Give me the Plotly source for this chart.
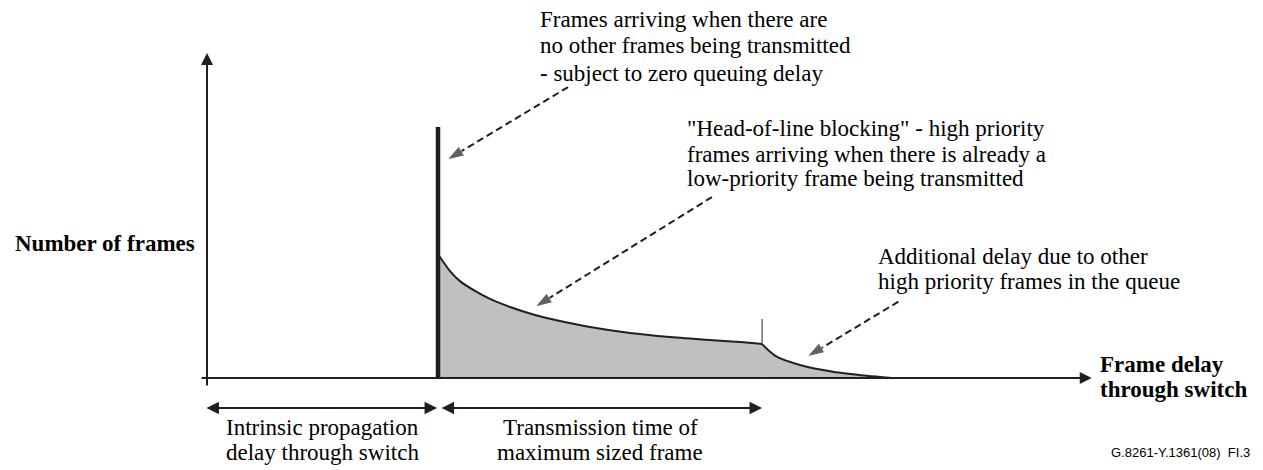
import plotly.graph_objects as go

# the page puts the plot 8px in from the top-left corner, so the figure is that much smaller
page_offset = 8
fig_w, fig_h = 1263 - page_offset, 470 - page_offset

# diagram origin (page pixels) and scale (pixels per data unit)
origin_px = (207, 378)
px_per_delay = 231
px_per_frames = 25.1

ink = '#231f20'
fill_grey = '#c0c0c0'
serif = 'Liberation Serif, Times New Roman, serif'
text_size = 23

# frame delay distribution: the zero-queuing spike, head-of-line part, queue tail
spike_delay = 1.0
spike_frames = 10.0
hol_delay = [1.006, 1.052, 1.095, 1.160, 1.225, 1.312, 1.420, 1.528, 1.658, 1.831, 2.004, 2.177, 2.307, 2.403]
hol_frames = [4.85, 4.26, 3.86, 3.47, 3.15, 2.83, 2.51, 2.27, 2.03, 1.79, 1.63, 1.51, 1.43, 1.35]
tail_delay = [2.403, 2.466, 2.567, 2.71, 2.856, 2.957]
tail_frames = [1.35, 0.85, 0.52, 0.25, 0.09, 0.01]
max_frame_tick = [1.35, 2.35]

# axis extents (delay, frames)
x_axis_span = [-0.03, 3.83]
y_axis_span = [-0.36, 12.95]

# dimension arrows under the axis
dim_level = -1.195
dim_spans = [[-0.009, 0.996], [1.009, 2.403]]

# dashed pointer arrows: (start delay, start frames) -> (tip delay, tip frames)
pointers = [
    [(1.563, 11.59), (1.039, 8.69)],
    [(2.186, 7.21), (1.420, 2.83)],
    [(2.993, 3.04), (2.598, 0.85)],
]

# text blocks: lines, anchor x, line centre y (page pixels), x anchor, bold
text_blocks = [
    (['Frames arriving when there are', 'no other frames being transmitted',
      '- subject to zero queuing delay'], 538, [19, 46, 73], 'left', False),
    (['"Head-of-line blocking" - high priority', 'frames arriving when there is already a',
      'low-priority frame being transmitted'], 685, [129, 154, 179], 'left', False),
    (['Additional delay due to other', 'high priority frames in the queue'], 876, [256, 281], 'left', False),
    (['Intrinsic propagation', 'delay through switch'], 322, [427, 452], 'center', False),
    (['Transmission time of', 'maximum sized frame'], 600, [427, 452], 'center', False),
    (['Number of frames'], 197, [243], 'right', True),
    (['Frame delay', 'through switch'], 1098, [364, 389], 'left', True),
]
figure_ref = 'G.8261-Y.1361(08)\u00a0 FI.3'


def to_paper(px, py):
    return (px - page_offset) / fig_w, 1 - (py - page_offset) / fig_h


ox, oy = origin_px[0] - page_offset, origin_px[1] - page_offset
x_range = [-ox / px_per_delay, (fig_w - ox) / px_per_delay]
y_range = [(oy - fig_h) / px_per_frames, oy / px_per_frames]

fig = go.Figure()

fig.add_trace(go.Scatter(x=hol_delay, y=hol_frames, mode='lines', fill='tozeroy', fillcolor=fill_grey,
                         line=dict(color=ink, width=2, shape='spline', smoothing=0.8), hoverinfo='skip'))
fig.add_trace(go.Scatter(x=tail_delay, y=tail_frames, mode='lines', fill='tozeroy', fillcolor=fill_grey,
                         line=dict(color=ink, width=2, shape='spline', smoothing=0.8), hoverinfo='skip'))
fig.add_trace(go.Scatter(x=[hol_delay[-1], hol_delay[-1]], y=max_frame_tick, mode='lines',
                         line=dict(color='#444444', width=1.2), hoverinfo='skip'))
fig.add_trace(go.Scatter(x=[spike_delay, spike_delay], y=[0, spike_frames], mode='lines',
                         line=dict(color=ink, width=4.5), hoverinfo='skip'))

for start, tip in pointers:
    fig.add_trace(go.Scatter(x=[start[0], tip[0]], y=[start[1], tip[1]], mode='lines+markers',
                             line=dict(color=ink, width=2, dash='7px,4px'),
                             marker=dict(symbol='arrow', size=[0, 18], color=ink, angleref='previous'),
                             hoverinfo='skip'))

# diagram axes with arrowheads
fig.add_annotation(x=x_axis_span[1], y=0, ax=x_axis_span[0], ay=0, axref='x', ayref='y', text='',
                   showarrow=True, arrowhead=2, arrowsize=1.2, arrowwidth=2, arrowcolor=ink, standoff=0)
fig.add_annotation(x=0, y=y_axis_span[1], ax=0, ay=y_axis_span[0], axref='x', ayref='y', text='',
                   showarrow=True, arrowhead=2, arrowsize=1.2, arrowwidth=2, arrowcolor=ink, standoff=0)

for x0, x1 in dim_spans:
    fig.add_annotation(x=x1, y=dim_level, ax=x0, ay=dim_level, axref='x', ayref='y', text='',
                       showarrow=True, arrowhead=2, arrowside='end+start', arrowsize=1.25, arrowwidth=2,
                       arrowcolor=ink, standoff=0, startstandoff=0)

for lines, px, pys, anchor, bold in text_blocks:
    for line, py in zip(lines, pys):
        tx, ty = to_paper(px, py)
        fig.add_annotation(x=tx, y=ty, xref='paper', yref='paper',
                           text='<b>' + line + '</b>' if bold else line, showarrow=False,
                           xanchor=anchor, yanchor='middle',
                           font=dict(family=serif, size=text_size, color='#000000'))

tx, ty = to_paper(1252, 452)
fig.add_annotation(x=tx, y=ty, xref='paper', yref='paper', text=figure_ref,
                   showarrow=False, xanchor='right', yanchor='middle',
                   font=dict(family='Liberation Sans, Arial, sans-serif', size=13, color='#000000'))

fig.update_layout(width=fig_w, height=fig_h, margin=dict(l=0, r=0, t=0, b=0),
                  paper_bgcolor='white', plot_bgcolor='white', showlegend=False,
                  xaxis=dict(range=x_range, visible=False, fixedrange=True),
                  yaxis=dict(range=y_range, visible=False, fixedrange=True))

fig.write_html('out.html')
